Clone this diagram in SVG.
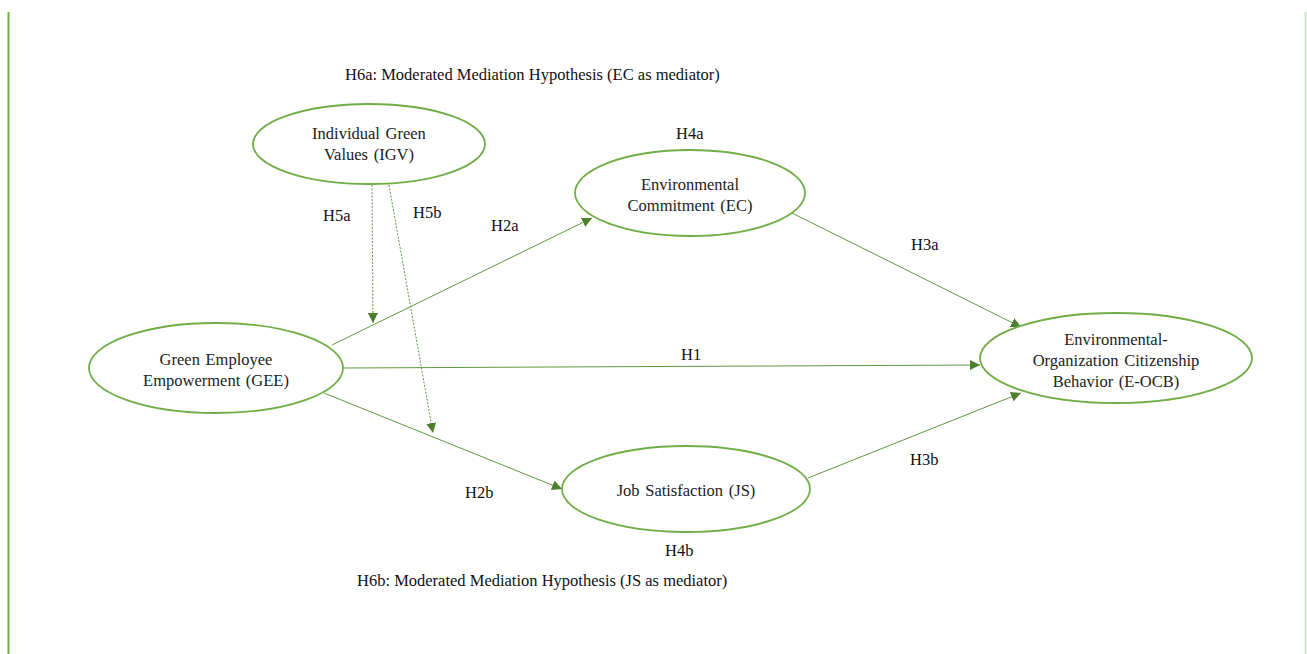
<svg xmlns="http://www.w3.org/2000/svg" width="1307" height="654" viewBox="0 0 1307 654">
<defs>
<marker id="arr" viewBox="0 0 10 10" refX="10" refY="5" markerWidth="10" markerHeight="10" markerUnits="userSpaceOnUse" orient="auto">
<path d="M0,0 L10,5 L0,10 z" fill="#4e7f2c"/>
</marker>
<style>
.node ellipse{fill:#fff;stroke:#70ad47;stroke-width:1.8}
.t{font-family:"Liberation Serif","Times New Roman",serif;font-size:16.5px;fill:#222;text-anchor:middle;word-spacing:1.5px}
.lbl{font-family:"Liberation Serif","Times New Roman",serif;font-size:16.5px;fill:#111}
.c{stroke:#5f9a3e;stroke-width:1;fill:none;marker-end:url(#arr)}
.d{stroke:#5f9a3e;stroke-width:1;fill:none;stroke-dasharray:2,1.5;marker-end:url(#arr)}
</style>
</defs>
<rect width="1307" height="654" fill="#fff"/>
<line x1="8.5" y1="12" x2="8.5" y2="654" stroke="#70ad47" stroke-width="2"/>
<line x1="1305.5" y1="12" x2="1305.5" y2="654" stroke="#c5e0b4" stroke-width="1.5"/>
<g id="connectors">
<line class="c" x1="332" y1="345" x2="592" y2="218"/>
<line class="c" x1="343" y1="368" x2="980" y2="365"/>
<line class="c" x1="324" y1="393" x2="562" y2="489"/>
<line class="c" x1="792" y1="213" x2="1021" y2="327"/>
<line class="c" x1="808" y1="478" x2="1021" y2="393"/>
<line class="d" x1="372" y1="185" x2="373" y2="323"/>
<line class="d" x1="389" y1="185" x2="433" y2="433"/>
</g>
<g id="labels">
<text class="lbl" x="345" y="80">H6a: Moderated Mediation Hypothesis (EC as mediator)</text>
<text class="lbl" x="357" y="586">H6b: Moderated Mediation Hypothesis (JS as mediator)</text>
<text class="lbl" x="323" y="221">H5a</text>
<text class="lbl" x="413" y="218">H5b</text>
<text class="lbl" x="491" y="231">H2a</text>
<text class="lbl" x="676" y="139">H4a</text>
<text class="lbl" x="911" y="250">H3a</text>
<text class="lbl" x="681" y="360">H1</text>
<text class="lbl" x="910" y="465">H3b</text>
<text class="lbl" x="465" y="498">H2b</text>
<text class="lbl" x="665" y="556">H4b</text>
</g>
<g id="igv" class="node">
<ellipse cx="369" cy="144" rx="116" ry="40"/>
<text class="t" x="369" y="139">Individual Green</text>
<text class="t" x="369" y="160">Values (IGV)</text>
</g>
<g id="ec" class="node">
<ellipse cx="690" cy="193" rx="115" ry="43"/>
<text class="t" x="690" y="190">Environmental</text>
<text class="t" x="690" y="211">Commitment (EC)</text>
</g>
<g id="gee" class="node">
<ellipse cx="216" cy="368" rx="127" ry="45"/>
<text class="t" x="216" y="365">Green Employee</text>
<text class="t" x="216" y="386">Empowerment (GEE)</text>
</g>
<g id="eocb" class="node">
<ellipse cx="1116" cy="358" rx="136" ry="45"/>
<text class="t" x="1116" y="345">Environmental-</text>
<text class="t" x="1116" y="366">Organization Citizenship</text>
<text class="t" x="1116" y="387">Behavior (E-OCB)</text>
</g>
<g id="js" class="node">
<ellipse cx="686" cy="489" rx="124" ry="43"/>
<text class="t" x="686" y="496">Job Satisfaction (JS)</text>
</g>
</svg>
